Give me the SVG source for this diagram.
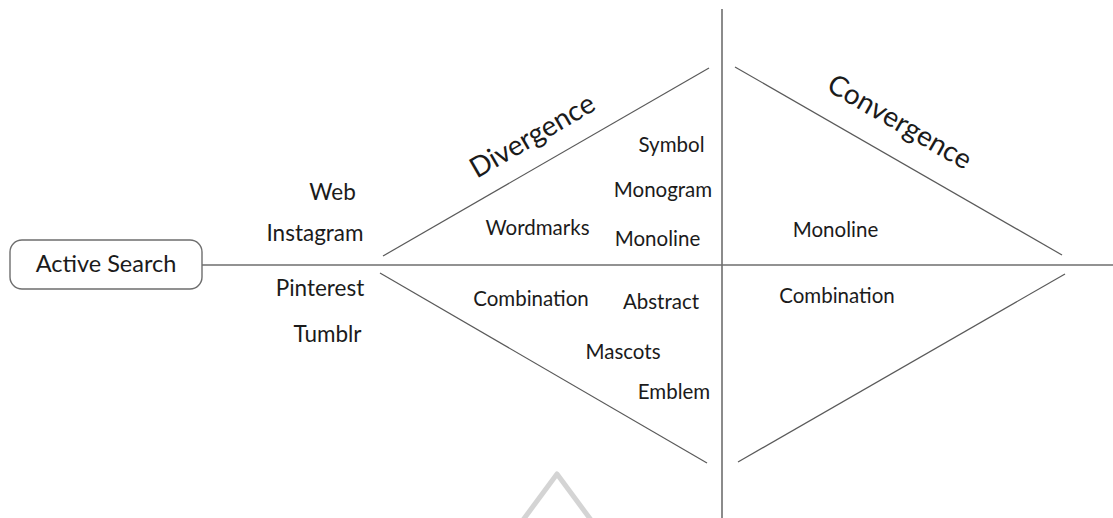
<svg xmlns="http://www.w3.org/2000/svg" width="1113" height="518" viewBox="0 0 1113 518">
  <style>
    .axis { stroke: #6e6e6e; stroke-width: 1.6; fill: none; }
    .edge { stroke: #5a5a5a; stroke-width: 1.2; fill: none; }
    .lbl { font-family: Lato, "Liberation Sans", sans-serif; fill: #1b1b1b; text-anchor: middle; }
    .start { font-size: 23.5px; }
    .src { font-size: 22.5px; }
    .item { font-size: 20.5px; }
    .phase { font-size: 28px; }
  </style>
  <rect width="1113" height="518" fill="#ffffff"/>

  <!-- axes and funnel edges -->
  <g id="connectors">
    <line class="axis" x1="722" y1="9" x2="722" y2="518"/>
    <line class="axis" x1="202" y1="265" x2="1113" y2="265"/>
    <line class="edge" x1="383" y1="256" x2="709" y2="68"/>
    <line class="edge" x1="380" y1="273" x2="707" y2="463"/>
    <line class="edge" x1="735" y1="67" x2="1062" y2="255"/>
    <line class="edge" x1="738" y1="462" x2="1065" y2="274"/>
  </g>

  <!-- start node -->
  <g id="active-search">
    <rect x="10" y="240" width="192" height="49" rx="12" ry="12" fill="#ffffff" stroke="#6e6e6e" stroke-width="1.4"/>
    <text class="lbl start" x="106" y="272">Active Search</text>
  </g>

  <!-- sources -->
  <g id="sources">
    <text class="lbl src" x="332.5" y="200">Web</text>
    <text class="lbl src" x="315" y="241">Instagram</text>
    <text class="lbl src" x="320" y="296">Pinterest</text>
    <text class="lbl src" x="327.5" y="342">Tumblr</text>
  </g>

  <!-- phase titles -->
  <g id="divergence">
    <text class="lbl phase" transform="translate(537,144) rotate(-30)">Divergence</text>
  </g>
  <g id="convergence">
    <text class="lbl phase" transform="translate(895,130) rotate(30)">Convergence</text>
  </g>

  <!-- divergence items -->
  <g id="divergence-items">
    <text class="lbl item" x="671.5" y="152">Symbol</text>
    <text class="lbl item" x="663" y="197">Monogram</text>
    <text class="lbl item" x="537.5" y="235">Wordmarks</text>
    <text class="lbl item" x="657.5" y="246">Monoline</text>
    <text class="lbl item" x="531" y="306">Combination</text>
    <text class="lbl item" x="661" y="309">Abstract</text>
    <text class="lbl item" x="623" y="359">Mascots</text>
    <text class="lbl item" x="674" y="399">Emblem</text>
  </g>

  <!-- convergence items -->
  <g id="convergence-items">
    <text class="lbl item" x="835.5" y="237">Monoline</text>
    <text class="lbl item" x="837" y="303">Combination</text>
  </g>

  <!-- faint triangle mark at the bottom edge -->
  <polyline points="523,520 557,474 591,520" fill="none" stroke="#d4d4d4" stroke-width="5" stroke-linejoin="round"/>
</svg>
